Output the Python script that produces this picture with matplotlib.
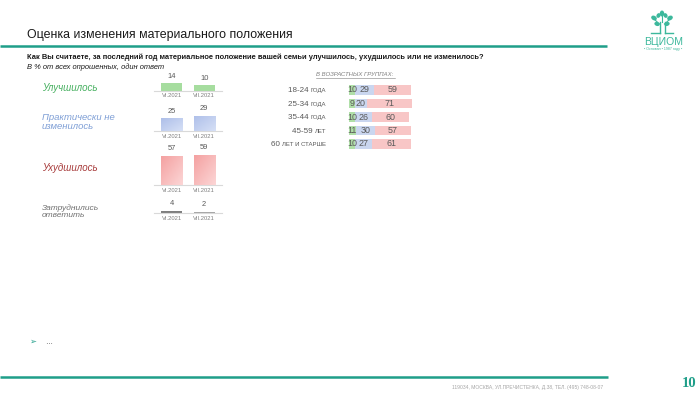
import numpy as np
import matplotlib
matplotlib.use("Agg")
import matplotlib.pyplot as plt
from matplotlib.patches import Ellipse
from matplotlib.colors import LinearSegmentedColormap

plt.rcParams['font.family'] = ['Liberation Sans', 'DejaVu Sans']

# ---------------- data ----------------
periods = ['VI.2021', 'VII.2021']
categories = ['Улучшилось', 'Практически не\nизменилось', 'Ухудшилось', 'Затруднились\nответить']
values_jun = [14, 25, 57, 4]
values_jul = [10, 29, 59, 2]

age_numbers = ['18-24', '25-34', '35-44', '45-59', '60']
age_words = ['ГОДА', 'ГОДА', 'ГОДА', 'ЛЕТ', 'ЛЕТ И СТАРШЕ']
age_improved = [10, 9, 10, 11, 10]
age_unchanged = [29, 20, 26, 30, 27]
age_worsened = [59, 71, 60, 57, 61]

W, H = 700, 394
fig = plt.figure(figsize=(W / 100, H / 100), dpi=100)

def px_axes(x0, y0, x1, y1):
    return fig.add_axes([x0 / W, 1 - y1 / H, (x1 - x0) / W, (y1 - y0) / H])

# background overlay in pixel coordinates
bg = px_axes(0, 0, W, H)
bg.set_xlim(0, W)
bg.set_ylim(H, 0)
bg.axis('off')

TEAL = '#1f9e89'
GRAY = '#595959'

# title and lines
bg.text(27, 35, 'Оценка изменения материального положения', fontsize=8.9,
        color='#1a1a1a', va='center', ha='left')
bg.plot([0, 607], [46, 46], color=TEAL, lw=1.8, solid_capstyle='butt')
bg.text(27, 57.5, 'Как Вы считаете, за последний год материальное положение вашей семьи '
        'улучшилось, ухудшилось или не изменилось?', fontsize=5.45, fontweight='bold',
        color='#1a1a1a', va='center', ha='left')
bg.text(27, 67, 'В % от всех опрошенных, один ответ', fontsize=5.4, style='italic',
        color='#1a1a1a', va='center', ha='left')

# logo
lc = '#3cb89c'
bg.plot([659.5, 659.5], [22, 33], color=lc, lw=1.0)
bg.plot([664.5, 664.5], [22, 33], color=lc, lw=1.0)
bg.plot([651, 659.5], [33, 33], color=lc, lw=1.0)
bg.plot([664.5, 673], [33, 33], color=lc, lw=1.0)
bg.plot([659.5, 655], [24, 20], color=lc, lw=0.8)
bg.plot([664.5, 669], [24, 20], color=lc, lw=0.8)
bg.plot([662, 662], [22, 15], color=lc, lw=0.8)
for (cx, cy, w, h, a) in [(662, 13.5, 3, 4.5, 0), (654, 18, 4.5, 3, 30), (670, 18, 4.5, 3, -30),
                          (657, 24, 4, 2.5, 20), (667, 24, 4, 2.5, -20), (658.5, 15.5, 2.5, 3.5, 30),
                          (665.5, 15.5, 2.5, 3.5, -30)]:
    bg.add_patch(Ellipse((cx, cy), w, h, angle=a, color=lc))
bg.text(663.5, 41.5, 'ВЦИОМ', fontsize=7.5, color=lc, ha='center', va='center')
bg.text(663.5, 49, '• Основан • 1987 году •', fontsize=2.6, color=lc, ha='center', va='center')

# category labels (left)
cat_colors = ['#47b060', '#7f9fd6', '#a83c3c', '#6f6f6f']
cat_y = [88, 122, 168, 211.5]
cat_sizes = [7.0, 6.8, 7.0, 6.0]
for lab, c, y, s in zip(categories, cat_colors, cat_y, cat_sizes):
    bg.text(42, y, lab, fontsize=s, style='italic', color=c, va='center', ha='left',
            linespacing=0.95)

# ---------------- left small bar charts ----------------
scale = 0.52  # px per percent
baselines = [90.7, 131, 185.5, 213]
bar_cols = [
    [('#a6dd9f', '#a6dd9f'), ('#a6dd9f', '#a6dd9f')],
    [('#d6e0f6', '#aebfe9'), ('#d6e0f6', '#aebfe9')],
    [('#fcd6d6', '#f4a0a0'), ('#fcd6d6', '#f4a0a0')],
    [('#7f7f7f', '#7f7f7f'), ('#a6a6a6', '#a6a6a6')],
]
grad = np.linspace(0, 1, 64)
grad2d = (grad[None, :] * 0.5 + grad[:, None] * 0.5)

for r in range(4):
    yb = baselines[r]
    top_px = 40
    ax = px_axes(154, yb - top_px, 222, yb)
    ymax = top_px / scale
    vals = [values_jun[r], values_jul[r]]
    x = np.arange(2)
    bars = ax.bar(x, vals, width=0.66, color=[bar_cols[r][0][1], bar_cols[r][1][1]],
                  zorder=2)
    for b, (cl, cd) in zip(bars, bar_cols[r]):
        if cl != cd:
            cmap = LinearSegmentedColormap.from_list('g', [cd, cl])
            bx, by = b.get_x(), b.get_y()
            im = ax.imshow(grad2d, cmap=cmap, extent=[bx, bx + b.get_width(), by, by + b.get_height()],
                           aspect='auto', origin='upper', zorder=3, interpolation='bilinear')
            im.set_clip_path(b)
    ax.bar_label(bars, labels=[str(v) for v in vals], padding=2.5, fontsize=5.4, color=GRAY)
    ax.set_xlim(-0.55, 1.55)
    ax.set_ylim(0, ymax)
    ax.set_xticks(x)
    ax.set_xticklabels(periods, fontsize=4.2, color='#7f7f7f')
    ax.tick_params(axis='x', length=0, pad=1.8)
    ax.set_yticks([])
    for s in ['top', 'left', 'right']:
        ax.spines[s].set_visible(False)
    ax.spines['bottom'].set_color('#d9d9d9')
    ax.spines['bottom'].set_linewidth(0.8)
    ax.patch.set_alpha(0)

# ---------------- right stacked bars ----------------
bg.text(355, 74, 'В ВОЗРАСТНЫХ ГРУППАХ:', fontsize=4.3, style='italic', color='#7f7f7f',
        ha='center', va='center')
bg.plot([316, 395], [77.5, 77.5], color='#7f7f7f', lw=0.4)

rscale = 0.63
rax = px_axes(349, 83.25, 425, 150.75)
rax.set_xlim(0, 76 / rscale)
rax.set_ylim(4.5, -0.5)
rax.axis('off')
yy = np.arange(len(age_numbers))
left = np.zeros(len(yy))
for vals, col in [(age_improved, '#b0dfa8'), (age_unchanged, '#cad6ef'), (age_worsened, '#f8c6c6')]:
    bs = rax.barh(yy, vals, left=left, height=0.7, color=col)
    rax.bar_label(bs, labels=[str(v) for v in vals], label_type='center', fontsize=6.4, color=GRAY)
    left = left + np.array(vals)

row_px = [90, 104, 117.3, 130.7, 144]
for num, word, y in zip(age_numbers, age_words, row_px):
    t = bg.text(326, y + 0.4, word, fontsize=4.3, color=GRAY, ha='right', va='center')
    bg.annotate(num + ' ', xy=(0, 0.5), xycoords=t, fontsize=5.8, color=GRAY,
                ha='right', va='center')

# bullet
bg.text(29, 341, '➢', fontsize=6, color=TEAL, ha='left', va='center', family='DejaVu Sans')
bg.text(45, 342, '…', fontsize=5, color='#404040', ha='left', va='center')

# footer
bg.plot([0, 608], [377.3, 377.3], color=TEAL, lw=1.8, solid_capstyle='butt')
bg.text(603, 387, '119034, МОСКВА, УЛ.ПРЕЧИСТЕНКА, Д.38, ТЕЛ. (495) 748-08-07', fontsize=3.6,
        color='#a6a6a6', ha='right', va='center')
bg.text(696, 383.5, '10', fontsize=10.5, fontweight='bold', color=TEAL, ha='right', va='center',
        family=['Liberation Serif', 'DejaVu Serif'])

fig.savefig('out.png', dpi=100)
